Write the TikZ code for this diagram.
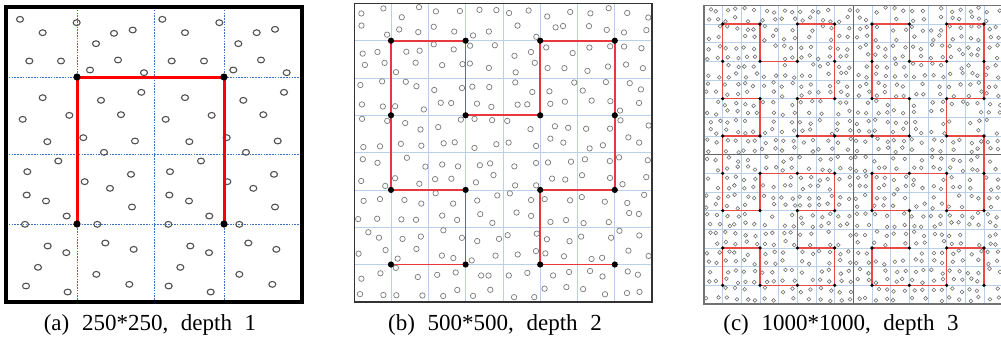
\documentclass[tikz,border=0pt]{standalone}
\usepackage{fontspec}
\setmainfont{Liberation Serif}
\definecolor{gridblue}{HTML}{3A72C4}
\definecolor{lightgrid}{HTML}{B9CFEA}
\definecolor{redA}{HTML}{FF0000}
\definecolor{redB}{HTML}{E8383D}
\definecolor{redC}{HTML}{E84A4A}
\tikzset{
  circA/.style={draw=black!68, line width=1.1pt},
  circB/.style={draw=black!52, line width=0.7pt},
  circC/.style={draw=black!58, line width=0.55pt},
  gridA/.style={draw=gridblue, line width=0.6pt, dash pattern=on 1.6pt off 1.2pt},
  gridL/.style={draw=lightgrid, line width=0.8pt},
  pathA/.style={draw=redA, line width=3pt},
  pathB/.style={draw=redB, line width=1.7pt},
  pathC/.style={draw=redC, line width=1.2pt},
  caption/.style={anchor=base, inner sep=0pt, font=\fontsize{23}{26}\selectfont},
}
\newcommand{\capgap}{\hspace{0.55em}}
\begin{document}
\begin{tikzpicture}[x=1pt,y=-1pt]
\useasboundingbox (0,0) rectangle (1001,354);
\fill[white] (0,0) rectangle (1001,354);

% ---------------- panel (a) ----------------
\foreach \g in {77,154,224}{
  \draw[gridA] (\g,7) -- (\g,302);
  \draw[gridA] (6,\g) -- (302,\g);
}
\foreach \x/\y in {60/58,230/68,128/98,342/100,398/90,288/131,88/183,183/183,354/180,270/210,432/218,
487/58,658/68,555/98,715/131,770/98,825/88,515/183,612/183,783/180,700/210,860/218,
128/293,303/301,424/277,68/358,208/346,363/344,250/413,142/425,405/423,312/457,
555/293,730/301,852/277,497/358,635/346,790/344,680/413,568/425,833/423,738/457,
175/483,82/515,393/523,254/545,330/565,80/585,138/603,396/621,200/648,75/673,292/673,
603/483,510/515,822/523,682/545,760/565,508/585,567/603,825/621,628/648,505/673,718/673,
143/738,316/729,199/758,401/748,114/802,289/823,78/858,388/853,203/876,
571/738,745/729,627/758,829/748,541/802,718/823,506/858,817/853,632/876}{
  \draw[circA] (\x/3,\y/3) ellipse[x radius=3.5, y radius=2.9];
}
\coordinate (a00) at (77,77);
\coordinate (a10) at (224,77);
\coordinate (a01) at (77,224);
\coordinate (a11) at (224,224);
\draw[pathA, line join=miter] (a01) -- (a00) -- (a10) -- (a11);
\foreach \p in {a00,a10,a01,a11}{ \fill[black] (\p) circle[radius=3.6]; }
\draw[black, line width=3.2pt] (6,7) rectangle (302,302);

% ---------------- panel (b) ----------------
\foreach \k in {1,...,7}{
  \draw[gridL] ({353.7+37.3*\k},3.5) -- ({353.7+37.3*\k},302);
  \draw[gridL] (354.5,{3.4+37.3*\k}) -- (652,{3.4+37.3*\k});
}
\pgfmathsetseed{4242}
\foreach \i in {0,...,15}{
  \foreach \j in {0,...,15}{
    \pgfmathsetmacro\cx{354.5+18.6*\i+3.4+11.8*rnd}
    \pgfmathsetmacro\cy{3.5+18.6*\j+3.4+11.8*rnd}
    \draw[circB] (\cx,\cy) circle[radius=2.7];
  }
}
\foreach \i in {0,...,3}{
  \foreach \j in {0,...,3}{
    \coordinate (b\i\j) at ({391+74.6*\i},{40.7+74.6*\j});
  }
}
\draw[pathB] (b03) -- (b13) -- (b12) -- (b02) -- (b01) -- (b00) -- (b10) -- (b11)
  -- (b21) -- (b20) -- (b30) -- (b31) -- (b32) -- (b22) -- (b23) -- (b33);
\foreach \i in {0,...,3}{
  \foreach \j in {0,...,3}{ \fill[black] (b\i\j) circle[radius=3.1]; }
}
\draw[black!80, line width=1.3pt] (354.5,3.5) rectangle (652,302);

% ---------------- panel (c) ----------------
\foreach \k in {1,...,15}{
  \draw[gridL, line width=0.7pt] ({704+18.67*\k},5.3) -- ({704+18.67*\k},304);
  \draw[gridL, line width=0.7pt] (704,{5.3+18.67*\k}) -- (1003,{5.3+18.67*\k});
}
\pgfmathsetseed{777}
\foreach \i in {0,...,31}{
  \foreach \j in {0,...,31}{
    \pgfmathsetmacro\cx{704+9.333*\i+2.1+5.1*rnd}
    \pgfmathsetmacro\cy{5.3+9.333*\j+2.1+5.1*rnd}
    \pgfmathsetmacro\keep{rnd}
    \ifdim\keep pt<0.84pt \draw[circC] (\cx,\cy) circle[radius=1.9];\fi
  }
}
\draw[black!60, line width=1pt] (853.3,5.3) -- (853.3,304);
\draw[black!60, line width=1pt] (704,154.6) -- (1003,154.6);
\foreach \i in {0,...,7}{
  \foreach \j in {0,...,7}{
    \coordinate (c\i\j) at ({722.7+37.33*\i},{24+37.33*\j});
  }
}
\draw[pathC] (c07)--(c06)--(c16)--(c17)--(c27)--(c37)--(c36)--(c26)--(c25)--(c35)--(c34)--(c24)--(c14)--(c15)--(c05)--(c04)
 --(c03)--(c13)--(c12)--(c02)--(c01)--(c00)--(c10)--(c11)--(c21)--(c20)--(c30)--(c31)--(c32)--(c22)--(c23)--(c33)
 --(c43)--(c53)--(c52)--(c42)--(c41)--(c40)--(c50)--(c51)--(c61)--(c60)--(c70)--(c71)--(c72)--(c62)--(c63)--(c73)
 --(c74)--(c75)--(c65)--(c64)--(c54)--(c44)--(c45)--(c55)--(c56)--(c46)--(c47)--(c57)--(c67)--(c66)--(c76)--(c77);
\foreach \i in {0,...,7}{
  \foreach \j in {0,...,7}{ \fill[black] (c\i\j) circle[radius=1.8]; }
}
\draw[black!55, line width=1.2pt] (704,5.3) rectangle (1003,304);

% ---------------- captions ----------------
\node[caption] (capA) at (150,330) {(a)\capgap 250*250,\capgap depth\capgap 1};
\node[caption] (capB) at (495,330) {(b)\capgap 500*500,\capgap depth\capgap 2};
\node[caption] (capC) at (841,330) {(c)\capgap 1000*1000,\capgap depth\capgap 3};
\end{tikzpicture}
\end{document}
